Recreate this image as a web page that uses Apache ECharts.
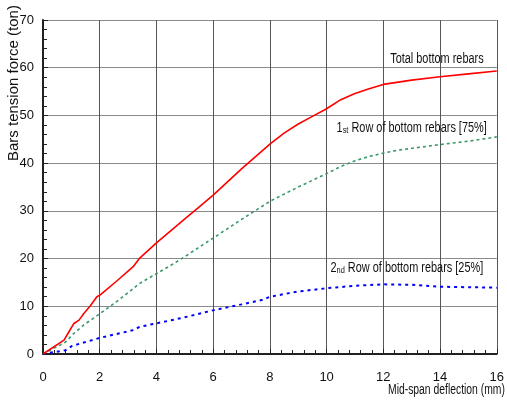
<!DOCTYPE html>
<html>
<head>
<meta charset="utf-8">
<script src="https://cdn.jsdelivr.net/npm/echarts@6/dist/echarts.min.js"></script>
<style>
  html, body { margin: 0; padding: 0; background: #fff; }
  #chart { width: 507px; height: 402px; }
</style>
</head>
<body>
<div id="chart"></div>
<script>
// Mid-span deflection (mm) vs. tension force carried by the bottom bars (ton)
const totalDefl = [0, 0.74, 0.9, 1.09, 1.27, 1.44, 1.67, 1.9, 2.02, 2.6, 3.18, 3.41, 4.0, 4.46, 5.0, 5.5, 6.0, 7.0, 8.0, 8.5, 9.0, 9.5, 10.0, 10.5, 11.0, 11.5, 12.0, 13.0, 14.0, 15.0, 16.0];
const totalForce = [0, 2.9, 4.5, 6.4, 7.1, 8.5, 10.1, 12.0, 12.4, 15.3, 18.3, 20.1, 23.3, 25.6, 28.3, 30.8, 33.3, 38.8, 44.0, 46.3, 48.2, 49.8, 51.4, 53.3, 54.6, 55.6, 56.5, 57.4, 58.1, 58.7, 59.3];

const row1Defl = [0, 0.8, 1.03, 1.44, 2.02, 2.6, 3.18, 3.41, 4.46, 5.0, 6.0, 7.0, 8.0, 9.0, 10.0, 10.5, 11.0, 11.5, 12.0, 12.5, 14.0, 15.0, 16.0];
const row1Force = [0, 2.5, 4.0, 6.1, 8.5, 11.0, 13.7, 14.8, 18.4, 20.4, 24.3, 28.2, 32.0, 35.0, 37.8, 39.3, 40.5, 41.4, 42.1, 42.7, 43.9, 44.6, 45.5];

const row2Defl = [0, 0.8, 1.03, 1.5, 2.02, 3.18, 3.41, 4.46, 5.0, 6.03, 7.0, 7.71, 8.0, 9.0, 10.04, 11.0, 12.0, 13.0, 14.0, 15.0, 16.0];
const row2Force = [0, 0.8, 1.7, 2.5, 3.4, 5.0, 5.7, 7.0, 7.7, 9.2, 10.4, 11.3, 12.0, 13.1, 13.8, 14.3, 14.6, 14.5, 14.1, 14.0, 13.9];

// Curve annotations: text parts (number, small ordinal suffix, rest) and the [deflection, force] anchor
const curveLabels = [
  { parts: ['Total bottom rebars'], at: [13.89, 62.0] },
  { parts: ['1', 'st', ' Row of bottom rebars [75%]'], at: [13.0, 47.6] },
  { parts: ['2', 'nd', ' Row of bottom rebars [25%]'], at: [12.83, 18.1] }
];

const xLabel = 'Mid-span deflection (mm)';
const yLabel = 'Bars tension force (ton)';

const pairs = (xs, ys) => xs.map((x, i) => [x, ys[i]]);
const FONT = '"Liberation Sans", Arial, sans-serif';
const NARROW_SCALE = 0.78;

const chart = echarts.init(document.getElementById('chart'), null, { renderer: 'canvas' });

const axisCommon = {
  axisLine: { show: true, onZero: false, lineStyle: { color: '#222', width: 2 } },
  axisTick: { show: true, inside: true, length: 5, lineStyle: { color: '#222', width: 1 } },
  minorTick: { show: true, splitNumber: 5, length: 4, lineStyle: { color: '#222', width: 1 } },
  axisLabel: { color: '#111', fontFamily: FONT, fontSize: 13 }
};

chart.setOption({
  animation: false,
  backgroundColor: '#fff',
  grid: { left: 43, right: 6, top: 20, bottom: 48, containLabel: false },
  xAxis: Object.assign({}, axisCommon, {
    type: 'value', min: 0, max: 16, interval: 2,
    axisLabel: Object.assign({}, axisCommon.axisLabel, { margin: 17 }),
    splitLine: { show: true, lineStyle: { color: '#555', width: 1 } }
  }),
  yAxis: Object.assign({}, axisCommon, {
    type: 'value', min: 0, max: 70, interval: 10,
    axisLabel: Object.assign({}, axisCommon.axisLabel, { margin: 9 }),
    splitLine: { show: true, lineStyle: { color: '#8a8a8a', width: 1.2 } }
  }),
  series: [
    {
      name: 'Total bottom rebars', type: 'line', data: pairs(totalDefl, totalForce),
      showSymbol: false, smooth: false, z: 5,
      lineStyle: { color: '#ff0000', width: 1.6 }
    },
    {
      name: '1st Row of bottom rebars [75%]', type: 'line', data: pairs(row1Defl, row1Force),
      showSymbol: false, smooth: false, z: 4,
      lineStyle: { color: '#3a9a6a', width: 1.6, type: [3, 3] }
    },
    {
      name: '2nd Row of bottom rebars [25%]', type: 'line', data: pairs(row2Defl, row2Force),
      showSymbol: false, smooth: false, z: 4,
      lineStyle: { color: '#0000ff', width: 2, type: [3, 4] }
    }
  ]
});

// Axis titles and curve annotations (narrowed type), anchored through the chart's coordinate system
const graphics = [
  {
    type: 'text',
    x: 6, y: 161, rotation: Math.PI / 2,
    style: { text: yLabel, fontFamily: FONT, fontSize: 15, fill: '#111', align: 'left', verticalAlign: 'top' }
  },
  {
    type: 'text',
    x: 388, y: 390, scaleX: 0.74,
    style: { text: xLabel, fontFamily: FONT, fontSize: 14, fill: '#111', align: 'left', verticalAlign: 'middle' }
  }
];

const rich = {
  a: { fontFamily: FONT, fontSize: 14, fill: '#111', lineHeight: 16, verticalAlign: 'bottom' },
  s: { fontFamily: FONT, fontSize: 9.5, fill: '#111', lineHeight: 16, verticalAlign: 'bottom' }
};

curveLabels.forEach(lbl => {
  const p = chart.convertToPixel({ gridIndex: 0 }, lbl.at);
  const text = lbl.parts.length === 1
    ? '{a|' + lbl.parts[0] + '}'
    : '{a|' + lbl.parts[0] + '}{s|' + lbl.parts[1] + '}{a|' + lbl.parts[2] + '}';
  graphics.push({
    type: 'text', x: p[0], y: p[1], z: 10, scaleX: NARROW_SCALE,
    style: { text: text, rich: rich, align: 'center', verticalAlign: 'middle' }
  });
});

chart.setOption({ graphic: graphics });
</script>
</body>
</html>
